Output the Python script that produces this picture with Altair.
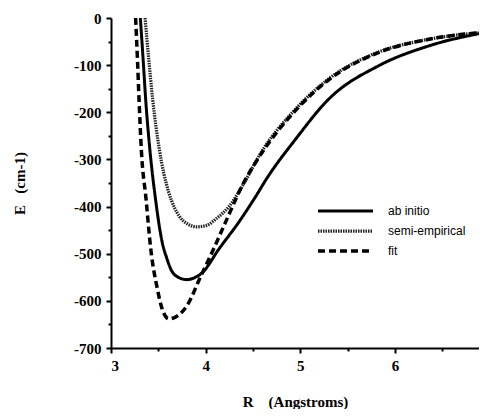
import altair as alt
import pandas as pd

# ab initio (solid)
ab_R = [3.31, 3.34, 3.366, 3.41, 3.47, 3.54, 3.59, 3.63, 3.72, 3.80, 3.88, 3.965, 4.14, 4.35, 4.53, 4.64, 4.95, 5.30, 5.83, 6.36, 6.97]
ab_E = [0, -90, -172, -278, -384, -475, -510, -532, -551, -555, -551, -540, -490, -433, -378, -342, -257, -172, -101, -59, -30]

# semi-empirical (dotted)
se_R = [3.36, 3.40, 3.44, 3.51, 3.61, 3.67, 3.72, 3.81, 3.91, 4.01, 4.11, 4.25, 4.40, 4.59, 4.95, 5.30, 5.83, 6.36, 6.97]
se_E = [0, -90, -172, -278, -370, -402, -420, -437, -443, -440, -426, -399, -352, -284, -193, -129, -72, -45, -30]

# fit (dashed)
fit_R = [3.26, 3.28, 3.296, 3.32, 3.37, 3.42, 3.49, 3.54, 3.61, 3.70, 3.80, 3.95, 4.07, 4.21, 4.40, 4.59, 4.95, 5.30, 5.83, 6.36, 6.97]
fit_E = [0, -90, -172, -278, -384, -490, -575, -617, -638, -632, -611, -547, -496, -433, -350, -287, -196, -131, -73, -45, -30]

series = ["ab initio", "semi-empirical", "fit"]
y_ticks = list(range(-700, 1, 50))
x_ticks = [3, 3.5, 4, 4.5, 5, 5.5, 6, 6.5]

rows = []
for name, Rs, Es in [(series[0], ab_R, ab_E), (series[1], se_R, se_E), (series[2], fit_R, fit_E)]:
    for i, (r, e) in enumerate(zip(Rs, Es)):
        rows.append({"series": name, "R": r, "E": e, "order": i})
df = pd.DataFrame(rows)

serif = "Liberation Serif"
sans = "Liberation Sans"

label_style = dict(labelFont=serif, labelFontWeight="bold", labelFontSize=15, labelColor="black",
                   titleFont=serif, titleFontWeight="bold", titleFontSize=15, titleColor="black",
                   domainColor="black", domainWidth=2, tickColor="black", tickWidth=2,
                   grid=False, labelPadding=5)

chart = alt.Chart(df).mark_line(interpolate="monotone", clip=True).encode(
    x=alt.X("R:Q",
            scale=alt.Scale(domain=[3, 6.887], nice=False, zero=False),
            axis=alt.Axis(
                values=x_ticks,
                labelExpr="datum.value % 1 == 0 ? '' + datum.value : ''",
                tickSize={"condition": {"test": "datum.value % 1 == 0", "value": 5}, "value": 3},
                title="R\u00a0\u00a0\u00a0\u00a0(Angstroms)",
                titlePadding=21,
                **label_style,
            )),
    y=alt.Y("E:Q",
            scale=alt.Scale(domain=[-700, 0], nice=False, zero=False),
            axis=alt.Axis(
                values=y_ticks,
                labelExpr="datum.value % 100 == 0 ? '' + datum.value : ''",
                tickSize={"condition": {"test": "datum.value % 100 == 0", "value": 5}, "value": 3},
                title="E\u00a0\u00a0\u00a0(cm-1)",
                titlePadding=46,
                **label_style,
            )),
    order="order:Q",
    color=alt.Color("series:N", scale=alt.Scale(domain=series, range=["black", "#222222", "black"]),
                    legend=alt.Legend(title=None, orient="none", legendX=205, legendY=183,
                                      symbolType="stroke", symbolSize=3025, symbolStrokeWidth=3,
                                      labelFont=sans, labelFontSize=12, labelColor="black",
                                      labelOffset=13, clipHeight=20, rowPadding=0)),
    strokeDash=alt.StrokeDash("series:N", scale=alt.Scale(domain=series, range=[[1, 0], [1.5, 1], [7, 4]]),
                              legend=None),
    strokeWidth=alt.StrokeWidth("series:N", scale=alt.Scale(domain=series, range=[3, 3.5, 3]), legend=None),
).properties(
    width=368, height=330,
    padding={"left": 4, "top": 3, "right": 0, "bottom": 0},
).configure_view(stroke=None)

chart.save("out.html", embed_options={"renderer": "svg", "actions": False})
